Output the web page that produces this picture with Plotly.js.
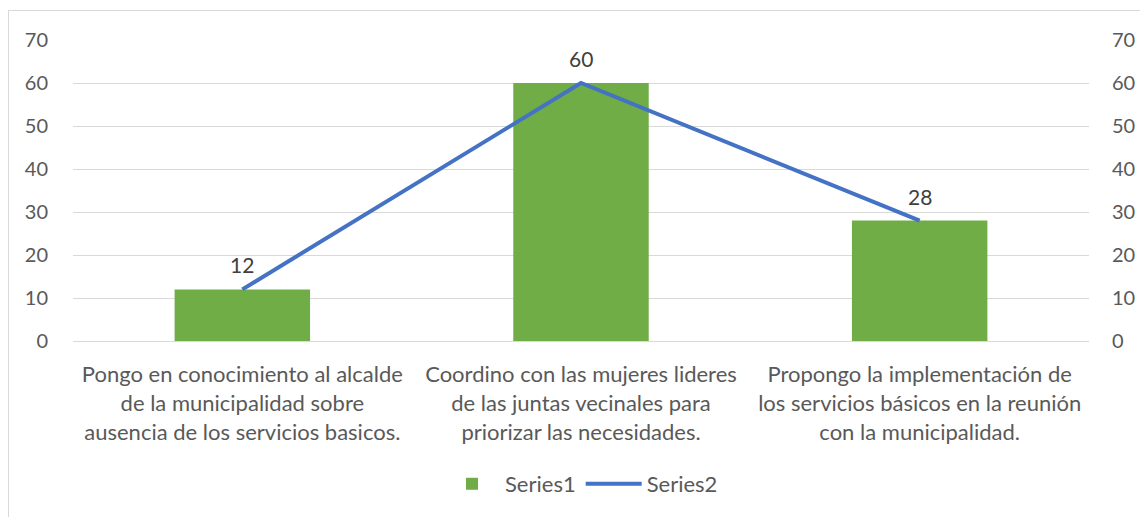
<!DOCTYPE html>
<html>
<head>
<meta charset="utf-8">
<script src="https://cdn.plot.ly/plotly-3.0.1.min.js"></script>
<style>
html,body{margin:0;padding:0;background:#fff;}
#wrap{position:relative;width:1140px;height:517px;overflow:hidden;}
#chart{width:1140px;height:517px;}
#frame{position:absolute;left:8px;top:10px;width:1160px;height:540px;border:1px solid #d9d9d9;pointer-events:none;}
</style>
</head>
<body>
<div id="wrap"><div id="chart"></div><div id="frame"></div></div>
<script>
const categories = [
  "Pongo en conocimiento al alcalde<br>de la municipalidad sobre<br>ausencia de los servicios basicos.",
  "Coordino con las mujeres lideres<br>de las juntas vecinales para<br>priorizar las necesidades.",
  "Propongo la implementación de<br>los servicios básicos en la reunión<br>con la municipalidad."
];
const series1 = [12, 60, 28];
const series2 = [12, 60, 28];
const tickVals = [0, 10, 20, 30, 40, 50, 60, 70];

const fam = "Lato, Open Sans, sans-serif";
const tickFont = {family: fam, size: 20, color: "#595959"};
const catFont = {family: fam, size: 22, color: "#595959"};
const legFont = {family: fam, size: 22, color: "#595959"};

const traces = [
  {
    type: "bar", name: "Series1", x: categories, y: series1,
    marker: {color: "#70AD47"}, hoverinfo: "none"
  },
  {
    type: "scatter", mode: "lines", name: "Series2", x: categories, y: series2,
    yaxis: "y2", line: {color: "#4472C4", width: 4}, hoverinfo: "none"
  }
];

const annotations = categories.map((c, i) => ({
  x: c, y: series1[i], xref: "x", yref: "y", text: String(series1[i]),
  showarrow: false, yanchor: "bottom", yshift: 10,
  font: {family: fam, size: 21, color: "#404040"}
}));

const layout = {
  width: 1140, height: 517,
  margin: {l: 73, r: 51, t: 40, b: 174},
  paper_bgcolor: "#ffffff", plot_bgcolor: "#ffffff",
  font: tickFont,
  bargap: 0.6,
  showlegend: true,
  annotations: annotations,
  legend: {orientation: "h", x: 0.5, xanchor: "center", y: -0.475, yanchor: "middle",
           font: legFont, itemwidth: 56, traceorder: "normal"},
  xaxis: {type: "category", showgrid: false, zeroline: false, showline: false,
          ticks: "outside", ticklen: 14, tickcolor: "rgba(0,0,0,0)", tickfont: catFont},
  yaxis: {range: [0, 70], tickvals: tickVals, showgrid: true, gridcolor: "#d9d9d9", gridwidth: 1,
          zeroline: true, zerolinecolor: "#d9d9d9", zerolinewidth: 1, showline: false,
          ticks: "outside", ticklen: 20, tickcolor: "rgba(0,0,0,0)", tickfont: tickFont, fixedrange: true},
  yaxis2: {range: [0, 70], tickvals: tickVals, overlaying: "y", side: "right", showgrid: false,
           zeroline: false, showline: false, ticks: "outside", ticklen: 18, tickcolor: "rgba(0,0,0,0)",
           tickfont: tickFont, fixedrange: true}
};

Plotly.newPlot("chart", traces, layout, {staticPlot: true, displayModeBar: false});
</script>
</body>
</html>
